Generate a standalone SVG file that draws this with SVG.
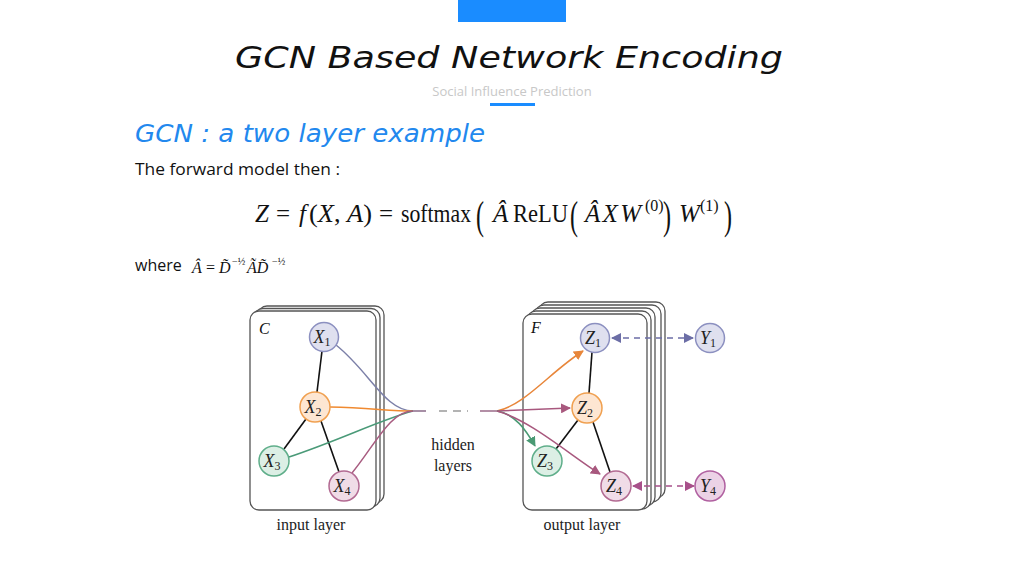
<svg xmlns="http://www.w3.org/2000/svg" width="1024" height="576" viewBox="0 0 1024 576">
<defs>
<style>
.title{font-family:"DejaVu Sans","Liberation Sans",sans-serif;font-style:italic;fill:#111}
.sub{font-family:"Open Sans","Liberation Sans",sans-serif;font-size:13px;fill:#c8c8c8}
.h2{font-family:"DejaVu Sans","Liberation Sans",sans-serif;font-style:italic;fill:#2288ee}
.body{font-family:"Open Sans","Liberation Sans",sans-serif;font-size:16px;fill:#111}
.m{font-family:"Liberation Serif","DejaVu Serif",serif;fill:#111}
.mi{font-family:"Liberation Serif","DejaVu Serif",serif;font-style:italic;fill:#111}
.bp{font-family:"Liberation Serif","DejaVu Serif",serif;font-size:40px;fill:#111}
.lbl{font-family:"Liberation Serif","DejaVu Serif",serif;font-size:16px;fill:#222}
.card{fill:#fff;stroke:#555;stroke-width:1.3}
.edge{stroke:#111;stroke-width:1.6;fill:none}
.nl{font-family:"Liberation Serif","DejaVu Serif",serif;font-style:italic;font-size:18px;fill:#222;text-anchor:middle}
.c{fill:none;stroke-width:1.5}
</style>
<marker id="aO" markerWidth="10" markerHeight="10" refX="9" refY="5" orient="auto" markerUnits="userSpaceOnUse"><path d="M0,0 L10,5 L0,10 Z" fill="#e8863a"/></marker>
<marker id="aP" markerWidth="10" markerHeight="10" refX="9" refY="5" orient="auto" markerUnits="userSpaceOnUse"><path d="M0,0 L10,5 L0,10 Z" fill="#a8587e"/></marker>
<marker id="aG" markerWidth="10" markerHeight="10" refX="9" refY="5" orient="auto" markerUnits="userSpaceOnUse"><path d="M0,0 L10,5 L0,10 Z" fill="#4a9a74"/></marker>
<marker id="aB" markerWidth="10" markerHeight="10" refX="9" refY="5" orient="auto-start-reverse" markerUnits="userSpaceOnUse"><path d="M0,0 L10,5 L0,10 Z" fill="#6c6ea6"/></marker>
<marker id="aM" markerWidth="10" markerHeight="10" refX="9" refY="5" orient="auto-start-reverse" markerUnits="userSpaceOnUse"><path d="M0,0 L10,5 L0,10 Z" fill="#a8508a"/></marker>
</defs>
<rect width="1024" height="576" fill="#fff"/>
<rect x="458" y="0" width="108" height="22" fill="#1a8cff"/>
<text class="title" x="509" y="68" font-size="30" text-anchor="middle" textLength="548" lengthAdjust="spacingAndGlyphs">GCN Based Network Encoding</text>
<text class="sub" x="512" y="96" text-anchor="middle">Social Influence Prediction</text>
<rect x="490" y="103" width="45" height="3" fill="#1a8cff"/>
<text class="h2" x="135" y="142" font-size="24" textLength="350" lengthAdjust="spacingAndGlyphs">GCN : a two layer example</text>
<text class="body" x="135" y="175" textLength="205" lengthAdjust="spacingAndGlyphs">The forward model then :</text>

<g id="formula">
<text class="mi" x="255" y="222" font-size="25">Z</text>
<text class="m" x="276" y="222" font-size="25">=</text>
<text class="mi" x="299" y="222" font-size="25">f</text>
<text class="m" x="309" y="222" font-size="25" textLength="63" lengthAdjust="spacingAndGlyphs">(<tspan font-style="italic">X</tspan>, <tspan font-style="italic">A</tspan>)</text>
<text class="m" x="379" y="222" font-size="25">=</text>
<text class="m" x="401" y="222" font-size="25" textLength="70" lengthAdjust="spacingAndGlyphs">softmax</text>
<text class="bp" x="476" y="229" textLength="8" lengthAdjust="spacingAndGlyphs">(</text>
<text class="mi" x="493" y="222" font-size="25">Â</text>
<text class="m" x="513" y="222" font-size="25" textLength="55" lengthAdjust="spacingAndGlyphs">ReLU</text>
<text class="bp" x="570" y="229" textLength="8" lengthAdjust="spacingAndGlyphs">(</text>
<text class="mi" x="585" y="222" font-size="25" textLength="56" lengthAdjust="spacing">ÂXW</text>
<text class="m" x="645" y="211" font-size="16">(0)</text>
<text class="bp" x="663" y="229" textLength="8" lengthAdjust="spacingAndGlyphs">)</text>
<text class="mi" x="679" y="222" font-size="25">W</text>
<text class="m" x="700" y="211" font-size="16">(1)</text>
<text class="bp" x="724" y="229" textLength="8" lengthAdjust="spacingAndGlyphs">)</text>
</g>

<text class="body" x="135" y="271">where</text>
<g id="formula2">
<text class="mi" x="192" y="273" font-size="16">Â</text>
<text class="m" x="206" y="273" font-size="16">=</text>
<text class="mi" x="219" y="273" font-size="16">D̃</text>
<text class="m" x="232" y="265" font-size="10">−½</text>
<text class="mi" x="247" y="273" font-size="16">ÃD̃</text>
<text class="m" x="272" y="265" font-size="10">−½</text>
</g>

<g id="input-layer">
<rect class="card" x="258" y="306" width="126" height="197" rx="9"/>
<rect class="card" x="254" y="308.5" width="126" height="198.5" rx="9"/>
<rect class="card" x="250" y="311" width="126" height="199" rx="9"/>
<text class="mi" x="259" y="334" font-size="16">C</text>
</g>

<g id="output-layer">
<rect class="card" x="539" y="302" width="126" height="196" rx="9"/>
<rect class="card" x="535" y="305" width="126" height="197" rx="9"/>
<rect class="card" x="531" y="308" width="124" height="198" rx="9"/>
<rect class="card" x="527" y="311" width="124" height="198" rx="9"/>
<rect class="card" x="523" y="314" width="124" height="196" rx="9"/>
<text class="mi" x="531" y="333" font-size="16">F</text>
</g>

<g id="connectors">
<line class="edge" x1="322" y1="351" x2="317" y2="392"/>
<line class="edge" x1="306" y1="419" x2="284" y2="449"/>
<line class="edge" x1="321" y1="421" x2="339" y2="472"/>
<line class="edge" x1="592" y1="352" x2="589" y2="393"/>
<line class="edge" x1="578" y1="420" x2="556" y2="449"/>
<line class="edge" x1="593" y1="422" x2="610" y2="472"/>
<path class="c" stroke="#7c80a8" d="M336 345 C370 372 385 411 413 411"/>
<path class="c" stroke="#f08a30" d="M330 407 C370 408 390 411 413 411"/>
<path class="c" stroke="#4a9a78" d="M289 457 C340 440 380 420 413 411"/>
<path class="c" stroke="#a85c80" d="M352 473 C375 445 390 411 413 411"/>
<path class="c" stroke="#8a6a88" d="M413 411 H426"/>
<path class="c" stroke="#9a9a9a" stroke-dasharray="8 6" d="M439 411 H468"/>
<path class="c" stroke="#9a6a88" d="M480 411 H497"/>
<path class="c" stroke="#e8863a" d="M497 411 C525 405 550 372 583 351" marker-end="url(#aO)"/>
<path class="c" stroke="#a8587e" d="M497 411 C520 410 545 409 570 408" marker-end="url(#aP)"/>
<path class="c" stroke="#4a9a74" d="M497 411 C515 414 526 430 535 446" marker-end="url(#aG)"/>
<path class="c" stroke="#a8587e" d="M497 411 C530 420 570 455 600 474" marker-end="url(#aP)"/>
<path class="c" stroke="#6c6ea6" stroke-dasharray="6 5" d="M612 338 H693" marker-start="url(#aB)" marker-end="url(#aB)"/>
<path class="c" stroke="#a8508a" stroke-dasharray="6 5" d="M633 486 H694" marker-start="url(#aM)" marker-end="url(#aM)"/>
</g>

<g id="X1"><circle cx="324" cy="337" r="14.5" fill="#dfe0ef" stroke="#8c90c0" stroke-width="1.5"/><text class="nl" x="322" y="343">X<tspan font-size="12" font-style="normal" dy="3">1</tspan></text></g>
<g id="X2"><circle cx="315" cy="407" r="15" fill="#fde6d2" stroke="#f0a050" stroke-width="1.5"/><text class="nl" x="313" y="413">X<tspan font-size="12" font-style="normal" dy="3">2</tspan></text></g>
<g id="X3"><circle cx="274" cy="461" r="15" fill="#dcefe5" stroke="#5fae8a" stroke-width="1.5"/><text class="nl" x="272" y="467">X<tspan font-size="12" font-style="normal" dy="3">3</tspan></text></g>
<g id="X4"><circle cx="344" cy="486" r="15" fill="#f0dce7" stroke="#b26a92" stroke-width="1.5"/><text class="nl" x="342" y="492">X<tspan font-size="12" font-style="normal" dy="3">4</tspan></text></g>

<g id="Z1"><circle cx="595" cy="338" r="14.5" fill="#dfe0ef" stroke="#8c90c0" stroke-width="1.5"/><text class="nl" x="593" y="344">Z<tspan font-size="12" font-style="normal" dy="3">1</tspan></text></g>
<g id="Z2"><circle cx="587" cy="408" r="15" fill="#fde6d2" stroke="#f0a050" stroke-width="1.5"/><text class="nl" x="585" y="414">Z<tspan font-size="12" font-style="normal" dy="3">2</tspan></text></g>
<g id="Z3"><circle cx="547" cy="461" r="15" fill="#dcefe5" stroke="#5fae8a" stroke-width="1.5"/><text class="nl" x="545" y="467">Z<tspan font-size="12" font-style="normal" dy="3">3</tspan></text></g>
<g id="Z4"><circle cx="616" cy="486" r="15" fill="#f0dce7" stroke="#b26a92" stroke-width="1.5"/><text class="nl" x="614" y="492">Z<tspan font-size="12" font-style="normal" dy="3">4</tspan></text></g>

<g id="Y1"><circle cx="710" cy="338" r="14.5" fill="#dfe0ef" stroke="#8c90c0" stroke-width="1.5"/><text class="nl" x="708" y="344">Y<tspan font-size="12" font-style="normal" dy="3">1</tspan></text></g>
<g id="Y4"><circle cx="710" cy="486" r="15" fill="#ecd2e6" stroke="#b060a0" stroke-width="1.5"/><text class="nl" x="708" y="492">Y<tspan font-size="12" font-style="normal" dy="3">4</tspan></text></g>

<text class="lbl" x="453" y="450" text-anchor="middle">hidden</text>
<text class="lbl" x="453" y="471" text-anchor="middle">layers</text>
<text class="lbl" x="311" y="530" text-anchor="middle">input layer</text>
<text class="lbl" x="582" y="530" text-anchor="middle">output layer</text>
</svg>
